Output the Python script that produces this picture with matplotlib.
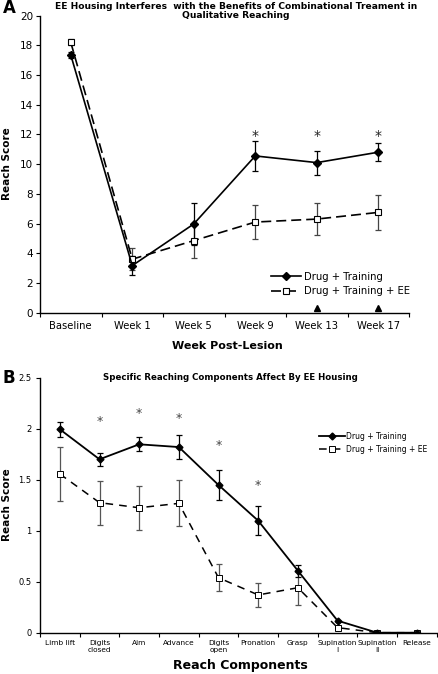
import matplotlib
matplotlib.use("Agg")
import matplotlib.pyplot as plt
import numpy as np

plt.rcParams['font.family'] = ['DejaVu Sans']

# ---------------- Panel A data ----------------
weeks = ["Baseline", "Week 1", "Week 5", "Week 9", "Week 13", "Week 17"]
a_drug = [17.35, 3.17, 5.97, 10.55, 10.1, 10.8]
a_drug_err = [0.2, 0.63, 1.44, 1.0, 0.8, 0.6]
a_ee = [18.2, 3.6, 4.85, 6.1, 6.3, 6.75]
a_ee_err = [0.2, 0.75, 1.15, 1.15, 1.1, 1.2]
a_star_idx = [3, 4, 5]
a_star_y = [11.9, 11.9, 11.9]
a_tri_idx = [4, 5]
a_tri_y = [0.3, 0.3]

# ---------------- Panel B data ----------------
components = ["Limb lift", "Digits\nclosed", "Aim", "Advance", "Digits\nopen",
              "Pronation", "Grasp", "Supination\nI", "Supination\nII", "Release"]
b_drug = [1.994, 1.70, 1.847, 1.82, 1.448, 1.098, 0.608, 0.118, 0.0, 0.0]
b_drug_err = [0.075, 0.065, 0.07, 0.12, 0.15, 0.14, 0.06, 0.0, 0.0, 0.0]
b_ee = [1.556, 1.275, 1.225, 1.268, 0.539, 0.37, 0.441, 0.05, 0.0, 0.0]
b_ee_err = [0.265, 0.215, 0.215, 0.225, 0.135, 0.115, 0.17, 0.0, 0.0, 0.0]
b_star_idx = [1, 2, 3, 4, 5]
b_star_y = [2.07, 2.15, 2.10, 1.84, 1.448]

W, H = 438, 674
fig = plt.figure(figsize=(W / 100, H / 100), dpi=100)


def rect(l, t, r, b):
    return [l / W, 1 - b / H, (r - l) / W, (b - t) / H]


def style_axes(ax, n):
    for s in ["top", "right"]:
        ax.spines[s].set_visible(False)
    for s in ["left", "bottom"]:
        ax.spines[s].set_linewidth(1.0)
    ax.set_xlim(-0.5, n - 0.5)
    ax.set_xticks(np.arange(n + 1) - 0.5)
    ax.set_xticklabels([])
    ax.tick_params(axis="x", which="major", direction="out", length=3, width=0.8)
    ax.tick_params(axis="y", direction="out", length=3, width=0.8)


# ---------------- Panel A ----------------
axA = fig.add_axes(rect(40, 15.5, 409, 312.7))
xa = np.arange(len(weeks))
axA.errorbar(xa, a_ee, yerr=a_ee_err, fmt="none", ecolor="#444444", elinewidth=0.9,
             capsize=2.5, capthick=0.9, zorder=2)
axA.errorbar(xa, a_drug, yerr=a_drug_err, fmt="none", ecolor="black", elinewidth=0.9,
             capsize=2.5, capthick=0.9, zorder=2)
axA.plot(xa, a_ee, color="black", lw=1.2, dashes=(6, 3), marker="s", ms=5,
         mfc="white", mec="black", mew=0.8, label="Drug + Training + EE", zorder=3)
axA.plot(xa, a_drug, color="black", lw=1.2, marker="D", ms=4, mfc="black",
         mec="black", label="Drug + Training", zorder=4)
for i, y in zip(a_star_idx, a_star_y):
    axA.text(xa[i], y, "*", ha="center", va="center", fontsize=10, color="#222222")
axA.plot(xa[a_tri_idx], a_tri_y, linestyle="none", marker="^", ms=4.5, color="black",
         zorder=5, clip_on=False)
style_axes(axA, len(weeks))
axA.set_ylim(0, 20)
axA.set_yticks(np.arange(0, 21, 2))
axA.set_xticks(xa, minor=True)
axA.set_xticklabels(weeks, minor=True, fontsize=7.2)
axA.tick_params(axis="x", which="minor", length=0, pad=6)
axA.tick_params(axis="y", labelsize=7.5, pad=2)
h, l = axA.get_legend_handles_labels()
axA.legend(h[::-1], l[::-1], loc="lower right", bbox_to_anchor=(1.02, 0.035),
           frameon=False, fontsize=7.2, handlelength=3.0, handletextpad=0.3,
           labelspacing=0.45, borderaxespad=0.2)
fig.text(3 / W, 1 - 8 / H, "A", fontsize=12, fontweight="bold", va="center", ha="left")
fig.text(236 / W, 1 - 11 / H,
         "EE Housing Interferes  with the Benefits of Combinational Treament in\nQualitative Reaching",
         ha="center", va="center", fontsize=6.6, fontweight="bold", linespacing=1.05)
fig.text(227 / W, 1 - 346 / H, "Week Post-Lesion", ha="center", va="center",
         fontsize=8, fontweight="bold")
fig.text(7 / W, 1 - 164 / H, "Reach Score", ha="center", va="center",
         rotation=90, fontsize=7.5, fontweight="bold")

# ---------------- Panel B ----------------
axB = fig.add_axes(rect(40, 377.7, 436.7, 632.7))
xb = np.arange(len(components))
axB.errorbar(xb, b_ee, yerr=b_ee_err, fmt="none", ecolor="#555555", elinewidth=0.9,
             capsize=2.2, capthick=0.9, zorder=2)
axB.errorbar(xb, b_drug, yerr=b_drug_err, fmt="none", ecolor="black", elinewidth=0.9,
             capsize=2.2, capthick=0.9, zorder=2)
axB.plot(xb, b_ee, color="black", lw=1.1, dashes=(5, 4), marker="s", ms=4.5,
         mfc="white", mec="black", mew=0.7, label="Drug + Training + EE", zorder=3)
axB.plot(xb, b_drug, color="black", lw=1.3, marker="D", ms=3.5, mfc="black",
         mec="black", label="Drug + Training", zorder=4)
for i, y in zip(b_star_idx, b_star_y):
    axB.text(xb[i], y, "*", ha="center", va="center", fontsize=9, color="#444444")
style_axes(axB, len(components))
axB.set_ylim(0, 2.5)
axB.set_yticks([0, 0.5, 1, 1.5, 2, 2.5])
axB.set_yticklabels(["0", "0.5", "1", "1.5", "2", "2.5"])
axB.set_xticks(xb, minor=True)
axB.set_xticklabels(components, minor=True, fontsize=5.3, linespacing=1.3)
axB.tick_params(axis="x", which="minor", length=0, pad=5)
axB.tick_params(axis="y", labelsize=6, pad=3)
h, l = axB.get_legend_handles_labels()
axB.legend(h[::-1], l[::-1], loc="upper left", bbox_to_anchor=((316 - 40) / (436.7 - 40), 0.8),
           frameon=False, fontsize=5.5, handlelength=3.4, handletextpad=0.1,
           labelspacing=0.55, borderaxespad=0)
fig.text(3 / W, 1 - 378 / H, "B", fontsize=12, fontweight="bold", va="center", ha="left")
fig.text(230 / W, 1 - 377 / H, "Specific Reaching Components Affect By EE Housing",
         ha="center", va="center", fontsize=6.2, fontweight="bold")
fig.text(240 / W, 1 - 666 / H, "Reach Components", ha="center", va="center",
         fontsize=9, fontweight="bold")
fig.text(7 / W, 1 - 505 / H, "Reach Score", ha="center", va="center",
         rotation=90, fontsize=7.5, fontweight="bold")

fig.savefig("out.png", dpi=100)
